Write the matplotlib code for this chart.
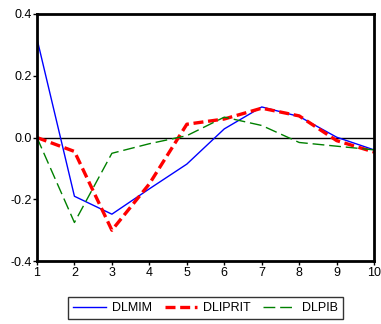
import matplotlib
matplotlib.use("Agg")
import matplotlib.pyplot as plt

plt.rcParams['font.family'] = ['Liberation Sans', 'DejaVu Sans']

periods = [1, 2, 3, 4, 5, 6, 7, 8, 9, 10]
dlmim = [0.32, -0.19, -0.248, -0.166, -0.086, 0.028, 0.099, 0.068, 0.001, -0.040]
dliprit = [0.0, -0.045, -0.30, -0.15, 0.043, 0.060, 0.095, 0.070, -0.010, -0.047]
dlpib = [0.0, -0.275, -0.051, -0.020, 0.006, 0.066, 0.039, -0.016, -0.028, -0.040]

fig = plt.figure(figsize=(3.81, 3.24), dpi=100)
ax = fig.add_axes([0.097, 0.194, 0.885, 0.763])

ax.axhline(0, color='black', linewidth=1)
ax.plot(periods, dlmim, color='#0000ff', linewidth=1, label='DLMIM')
ax.plot(periods, dliprit, color='#ff0000', linewidth=2.4, dashes=(3.0, 1.4), label='DLIPRIT')
ax.plot(periods, dlpib, color='#008000', linewidth=1, dashes=(8.5, 3.5), label='DLPIB')

ax.set_xlim(1, 10)
ax.set_ylim(-0.4, 0.4)
ax.set_xticks(periods)
ax.set_yticks([-0.4, -0.2, 0.0, 0.2, 0.4])
ax.set_yticklabels(['-0.4', '-0.2', '0.0', '0.2', '0.4'])
ax.tick_params(labelsize=9, length=3, width=1, pad=1, direction='out')
for s in ax.spines.values():
    s.set_linewidth(2)

leg = fig.legend(loc='lower center', bbox_to_anchor=(0.540, 0.015), ncol=3,
                 fontsize=9, frameon=True, fancybox=False, edgecolor='black',
                 handlelength=2.6, columnspacing=1.0, handletextpad=0.5,
                 borderpad=0.4, borderaxespad=0)
leg.get_frame().set_linewidth(1)

fig.savefig('out.png', dpi=100)
